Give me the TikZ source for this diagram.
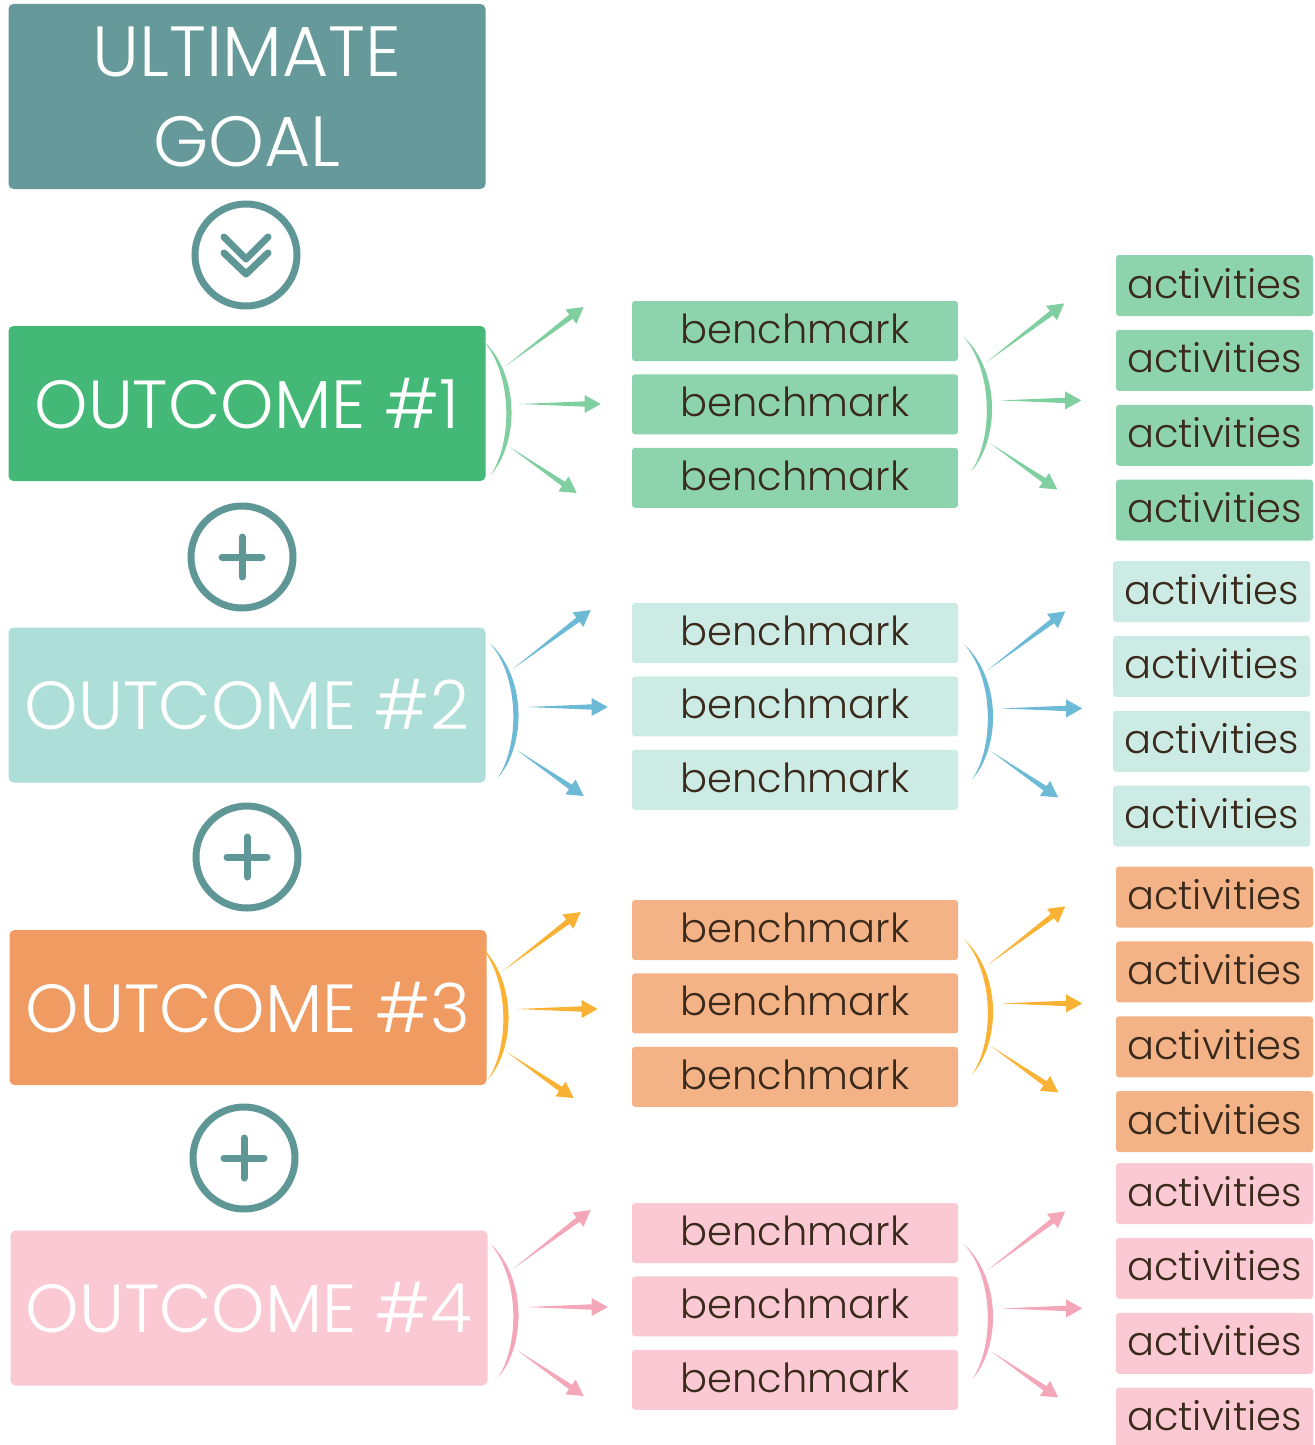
\documentclass[tikz,border=0pt]{standalone}
\usepackage{fontspec}
\setmainfont{Poppins}[UprightFont={* Light}]
\usetikzlibrary{calc,positioning}

\definecolor{goalC}{HTML}{669999}
\definecolor{ringC}{HTML}{5F9696}
\definecolor{outA}{HTML}{44B876}
\definecolor{outB}{HTML}{ADDED7}
\definecolor{outC}{HTML}{F09B61}
\definecolor{outD}{HTML}{FAC9D3}
\definecolor{benA}{HTML}{8DD3AE}
\definecolor{benB}{HTML}{CDEBE5}
\definecolor{benC}{HTML}{F4B287}
\definecolor{benD}{HTML}{FAC9D3}
\definecolor{arrA}{HTML}{80CFA0}
\definecolor{arrB}{HTML}{6CBAD6}
\definecolor{arrC}{HTML}{F9B233}
\definecolor{arrD}{HTML}{F4A7B9}
\definecolor{ink}{HTML}{3A2A1C}

% tapered arrow: #1 start, #2 tip
\newcommand{\spoke}[2]{%
  \coordinate (hb) at ($(#2)!16pt!(#1)$);
  \fill (#1) -- ($(hb)!2.7pt!90:(#2)$) -- ($(hb)!9pt!90:(#2)$) -- (#2)
    -- ($(hb)!9pt!-90:(#2)$) -- ($(hb)!2.7pt!-90:(#2)$) -- cycle;}
% bracket with three arrows
\newcommand{\fan}[2]{%
  \begin{scope}[shift={(#1)}, fill=#2]
    \fill (-3,-66) .. controls (34,-32) and (34,36) .. (5,69)
      .. controls (27,36) and (27,-32) .. (-3,-66) -- cycle;
    \spoke{20,-40}{98,-99}
    \spoke{34,-2}{115,-2}
    \spoke{24,41}{91,87}
  \end{scope}}

\tikzset{
  big/.style={fill=#1, rounded corners=5pt, text=white, inner sep=0pt,
    minimum width=477pt, minimum height=155pt, font=\fontsize{68}{68}\selectfont},
  bench/.style={fill=#1, rounded corners=3pt, text=ink, inner sep=0pt,
    minimum width=326pt, minimum height=60pt, font=\fontsize{40}{40}\selectfont,
    text depth=5pt},
  act/.style={bench=#1, minimum width=197pt, minimum height=61pt},
  ring/.style={circle, draw=ringC, line width=7pt, minimum size=102pt, inner sep=0pt},
  sign/.style={draw=ringC, line width=7pt, line cap=round, line join=round}
}

\begin{document}
\begin{tikzpicture}[x=1pt, y=-1pt]
\useasboundingbox (0,0) rectangle (1314,1445);

\node (goal) [big=goalC, minimum height=185pt, align=center,
  font=\fontsize{71}{90}\selectfont] at (247,96.5) {ULTIMATE\\GOAL};
\node (o1) [big=outA] at (247,403.5) {OUTCOME \#1};
\node (o2) [big=outB] at (247,705) {OUTCOME \#2};
\node (o3) [big=outC] at (248,1007.5) {OUTCOME \#3};
\node (o4) [big=outD] at (249,1308) {OUTCOME \#4};

% icons between the boxes
\node (down) [ring] at (246,255) {};
\draw[sign] ($(down)+(-22,-18)$) -- ($(down)+(0,4)$) -- ($(down)+(22,-18)$);
\draw[sign] ($(down)+(-22,-2)$) -- ($(down)+(0,19)$) -- ($(down)+(22,-2)$);
\foreach \p/\x/\y in {p1/242/557, p2/247/857, p3/244/1158}{
  \node (\p) [ring] at (\x,\y) {};
  \draw[sign] ($(\p)+(-20,0)$) -- ($(\p)+(20,0)$);
  \draw[sign] ($(\p)+(0,-20)$) -- ($(\p)+(0,20)$);
}

% benchmarks and activities
\foreach \g/\y/\ya/\xa/\c in {1/331/285.5/1214.5/benA, 2/633/591.5/1211.5/benB,
    3/930/897/1214.5/benC, 4/1233/1193.5/1214.5/benD}{
  \node (b\g1) [bench=\c] at (795,\y) {benchmark};
  \node (b\g2) [bench=\c, below=13pt of b\g1] {benchmark};
  \node (b\g3) [bench=\c, below=13pt of b\g2] {benchmark};
  \node (a\g1) [act=\c] at (\xa,\ya) {activities};
  \node (a\g2) [act=\c, below=13.5pt of a\g1] {activities};
  \node (a\g3) [act=\c, below=13.5pt of a\g2] {activities};
  \node (a\g4) [act=\c, below=13.5pt of a\g3] {activities};
}

% fans
\fan{$(o1.east)+(0,2.5)$}{arrA}
\fan{$(o2.east)+(7,4)$}{arrB}
\fan{$(o3.east)+(-4,3.5)$}{arrC}
\fan{$(o4.east)+(5,1)$}{arrD}
\fan{$(b12.east)+(8,-2)$}{arrA}
\fan{$(b22.east)+(9,4)$}{arrB}
\fan{$(b32.east)+(9,2)$}{arrC}
\fan{$(b42.east)+(9,4)$}{arrD}
\end{tikzpicture}
\end{document}
